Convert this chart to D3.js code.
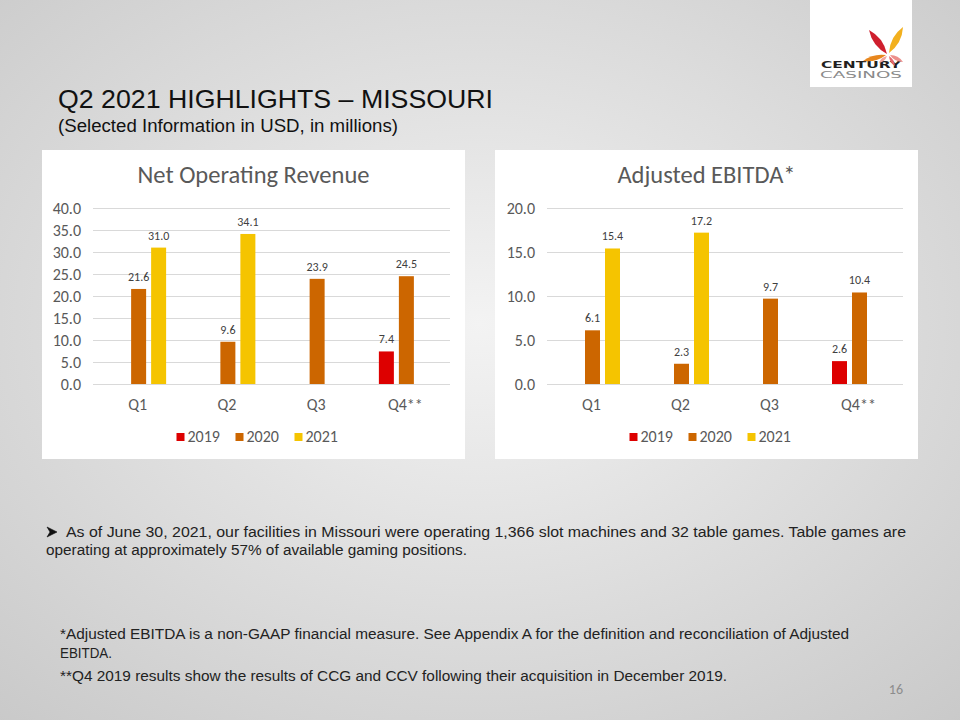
<!DOCTYPE html>
<html>
<head>
<meta charset="utf-8">
<script src="https://cdn.jsdelivr.net/npm/d3@7"></script>
<style>
  html, body { margin: 0; padding: 0; }
  body { width: 960px; height: 720px; overflow: hidden; }
</style>
</head>
<body>
<div id="slide"></div>
<script>
// chart data
const quarters = ["Q1", "Q2", "Q3", "Q4**"];
const years = ["2019", "2020", "2021"];
const revenue2019 = [null, null, null, 7.4];
const revenue2020 = [21.6, 9.6, 23.9, 24.5];
const revenue2021 = [31.0, 34.1, null, null];
const ebitda2019 = [null, null, null, 2.6];
const ebitda2020 = [6.1, 2.3, 9.7, 10.4];
const ebitda2021 = [15.4, 17.2, null, null];
const revenueTicks = [0, 5, 10, 15, 20, 25, 30, 35, 40];
const ebitdaTicks = [0, 5, 10, 15, 20];

const colors = {"2019": "#dd0000", "2020": "#cc6600", "2021": "#f5c400"};
const chartFont = "Carlito, Calibri, Lato, sans-serif";
const arial = "'Liberation Sans', Arial, sans-serif";

const svg = d3.select("#slide").append("svg")
    .attr("width", 960)
    .attr("height", 720);

// background gradient
const defs = svg.append("defs");
const grad = defs.append("radialGradient")
    .attr("id", "bg")
    .attr("cx", "50%").attr("cy", "45%").attr("r", "75%");
grad.append("stop").attr("offset", "0%").attr("stop-color", "#f3f3f3");
grad.append("stop").attr("offset", "100%").attr("stop-color", "#c9c9c9");
svg.append("rect").attr("width", 960).attr("height", 720).attr("fill", "url(#bg)");

// logo
const logo = svg.append("g");
logo.append("rect").attr("x", 810).attr("y", 0).attr("width", 102).attr("height", 87).attr("fill", "#ffffff");
logo.append("text")
    .attr("x", 861).attr("y", 68)
    .attr("text-anchor", "middle")
    .attr("font-family", "'DejaVu Sans', sans-serif")
    .attr("font-weight", "bold")
    .attr("font-size", 9.5)
    .attr("fill", "#231f20")
    .attr("textLength", 80).attr("lengthAdjust", "spacingAndGlyphs")
    .text("CENTURY");
logo.append("text")
    .attr("x", 861).attr("y", 78)
    .attr("text-anchor", "middle")
    .attr("font-family", "'DejaVu Sans', sans-serif")
    .attr("font-size", 9.5)
    .attr("fill", "#8a8a8a")
    .attr("textLength", 82).attr("lengthAdjust", "spacingAndGlyphs")
    .text("CASINOS");

function leaf(b, t, w) {
    const mx = (b[0] + t[0]) / 2, my = (b[1] + t[1]) / 2;
    const dx = t[0] - b[0], dy = t[1] - b[1];
    const len = Math.sqrt(dx * dx + dy * dy);
    const px = -dy / len * w, py = dx / len * w;
    return `M${b[0]},${b[1]} Q${mx + px},${my + py} ${t[0]},${t[1]} Q${mx - px},${my - py} ${b[0]},${b[1]} Z`;
}
const petals = [
    {b: [887, 54], t: [869, 30], w: 7, c: "#cf1f2e"},
    {b: [889, 53], t: [903, 27], w: 7, c: "#f2b01e"},
    {b: [886, 55], t: [863, 61], w: 5, c: "#e8871e"},
    {b: [890, 55], t: [903, 62], w: 4, c: "#ec8f8a"},
    {b: [889, 56], t: [895, 66], w: 3, c: "#e4676b"},
    {b: [887, 56], t: [879, 63], w: 3, c: "#f0a39c"}
];
logo.selectAll("path.petal").data(petals).enter().append("path")
    .attr("class", "petal")
    .attr("d", d => leaf(d.b, d.t, d.w))
    .attr("fill", d => d.c);

// heading
svg.append("text")
    .attr("x", 58).attr("y", 108)
    .attr("font-family", arial)
    .attr("font-size", 26.5)
    .attr("fill", "#111")
    .attr("textLength", 435).attr("lengthAdjust", "spacingAndGlyphs")
    .text("Q2 2021 HIGHLIGHTS – MISSOURI");
svg.append("text")
    .attr("x", 58).attr("y", 132)
    .attr("font-family", arial)
    .attr("font-size", 17.5)
    .attr("fill", "#111")
    .attr("textLength", 340).attr("lengthAdjust", "spacingAndGlyphs")
    .text("(Selected Information in USD, in millions)");

function drawChart(cfg) {
    const g = svg.append("g");
    g.append("rect")
        .attr("x", cfg.panel.x).attr("y", cfg.panel.y)
        .attr("width", cfg.panel.w).attr("height", cfg.panel.h)
        .attr("fill", "#ffffff");

    g.append("text")
        .attr("x", cfg.panel.x + cfg.panel.w / 2)
        .attr("y", 183)
        .attr("text-anchor", "middle")
        .attr("font-family", chartFont)
        .attr("font-size", 24.5)
        .attr("fill", "#595959")
        .text(cfg.title);

    const x = d3.scaleBand().domain(quarters).range([cfg.x0, cfg.x1]);
    const y = d3.scaleLinear().domain([0, cfg.max]).range([384, 208]);

    // gridlines + y labels
    g.selectAll("line.grid").data(cfg.ticks).enter().append("line")
        .attr("x1", cfg.x0).attr("x2", cfg.x1)
        .attr("y1", d => y(d) + 0.5).attr("y2", d => y(d) + 0.5)
        .attr("stroke", "#d9d9d9").attr("stroke-width", 1);
    g.selectAll("text.ytick").data(cfg.ticks).enter().append("text")
        .attr("x", cfg.x0 - 12)
        .attr("y", d => y(d) + 5.5)
        .attr("text-anchor", "end")
        .attr("font-family", chartFont)
        .attr("font-size", 16)
        .attr("fill", "#595959")
        .text(d => d3.format(".1f")(d));

    // x labels
    g.selectAll("text.xtick").data(quarters).enter().append("text")
        .attr("x", d => x(d) + x.bandwidth() / 2)
        .attr("y", 410)
        .attr("text-anchor", "middle")
        .attr("font-family", chartFont)
        .attr("font-size", 16)
        .attr("fill", "#595959")
        .text(d => d);

    const inner = d3.scaleBand().domain(years)
        .range([x.bandwidth() / 2 - 27.5, x.bandwidth() / 2 + 27.5])
        .paddingInner(0.25);

    const bars = [];
    years.forEach((yr, i) => {
        cfg.series[i].forEach((v, q) => {
            if (v !== null) bars.push({year: yr, quarter: quarters[q], value: v});
        });
    });

    g.selectAll("rect.bar").data(bars).enter().append("rect")
        .attr("x", d => x(d.quarter) + inner(d.year) + 1)
        .attr("y", d => y(d.value))
        .attr("width", inner.bandwidth())
        .attr("height", d => y(0) - y(d.value))
        .attr("fill", d => colors[d.year]);

    g.selectAll("text.val").data(bars).enter().append("text")
        .attr("x", d => x(d.quarter) + inner(d.year) + 1 + inner.bandwidth() / 2)
        .attr("y", d => y(d.value) - 8)
        .attr("text-anchor", "middle")
        .attr("font-family", chartFont)
        .attr("font-size", 12)
        .attr("fill", "#404040")
        .text(d => d3.format(".1f")(d.value));

    // legend
    const legendX = cfg.panel.x + cfg.panel.w / 2 - 77;
    const leg = g.append("g").attr("transform", `translate(${legendX}, 437)`);
    years.forEach((yr, i) => {
        const item = leg.append("g").attr("transform", `translate(${i * 59}, 0)`);
        item.append("rect").attr("x", 0).attr("y", -4).attr("width", 8).attr("height", 8).attr("fill", colors[yr]);
        item.append("text")
            .attr("x", 11).attr("y", 5)
            .attr("font-family", chartFont)
            .attr("font-size", 16)
            .attr("fill", "#595959")
            .text(yr);
    });
}

drawChart({
    panel: {x: 42, y: 150, w: 423, h: 309},
    title: "Net Operating Revenue",
    x0: 93, x1: 450, max: 40, ticks: revenueTicks,
    series: [revenue2019, revenue2020, revenue2021]
});
drawChart({
    panel: {x: 495, y: 150, w: 423, h: 309},
    title: "Adjusted EBITDA*",
    x0: 547, x1: 903, max: 20, ticks: ebitdaTicks,
    series: [ebitda2019, ebitda2020, ebitda2021]
});

// body text
svg.append("path")
    .attr("d", "M47,527 L57,532 L47,537 L50,532 Z")
    .attr("fill", "#111")
    .attr("stroke", "#111")
    .attr("stroke-width", 0.6)
    .attr("stroke-linejoin", "round");
svg.append("text")
    .attr("x", 66).attr("y", 537)
    .attr("font-family", arial)
    .attr("font-size", 14)
    .attr("fill", "#222")
    .attr("textLength", 840).attr("lengthAdjust", "spacingAndGlyphs")
    .text("As of June 30, 2021, our facilities in Missouri were operating 1,366 slot machines and 32 table games. Table games are");
svg.append("text")
    .attr("x", 46).attr("y", 555)
    .attr("font-family", arial)
    .attr("font-size", 14)
    .attr("fill", "#222")
    .attr("textLength", 421).attr("lengthAdjust", "spacingAndGlyphs")
    .text("operating at approximately 57% of available gaming positions.");

const notes = [
    {x: 60, y: 639, w: 789, t: "*Adjusted EBITDA is a non-GAAP financial measure. See Appendix A for the definition and reconciliation of Adjusted"},
    {x: 60, y: 658, w: 52, t: "EBITDA."},
    {x: 60, y: 681, w: 667, t: "**Q4 2019 results show the results of CCG and CCV following their acquisition in December 2019."}
];
svg.selectAll("text.note").data(notes).enter().append("text")
    .attr("x", d => d.x).attr("y", d => d.y)
    .attr("font-family", arial)
    .attr("font-size", 14)
    .attr("fill", "#222")
    .attr("textLength", d => d.w).attr("lengthAdjust", "spacingAndGlyphs")
    .text(d => d.t);

svg.append("text")
    .attr("x", 903).attr("y", 694)
    .attr("text-anchor", "end")
    .attr("font-family", chartFont)
    .attr("font-size", 14)
    .attr("fill", "#8c8c8c")
    .text("16");
</script>
</body>
</html>
